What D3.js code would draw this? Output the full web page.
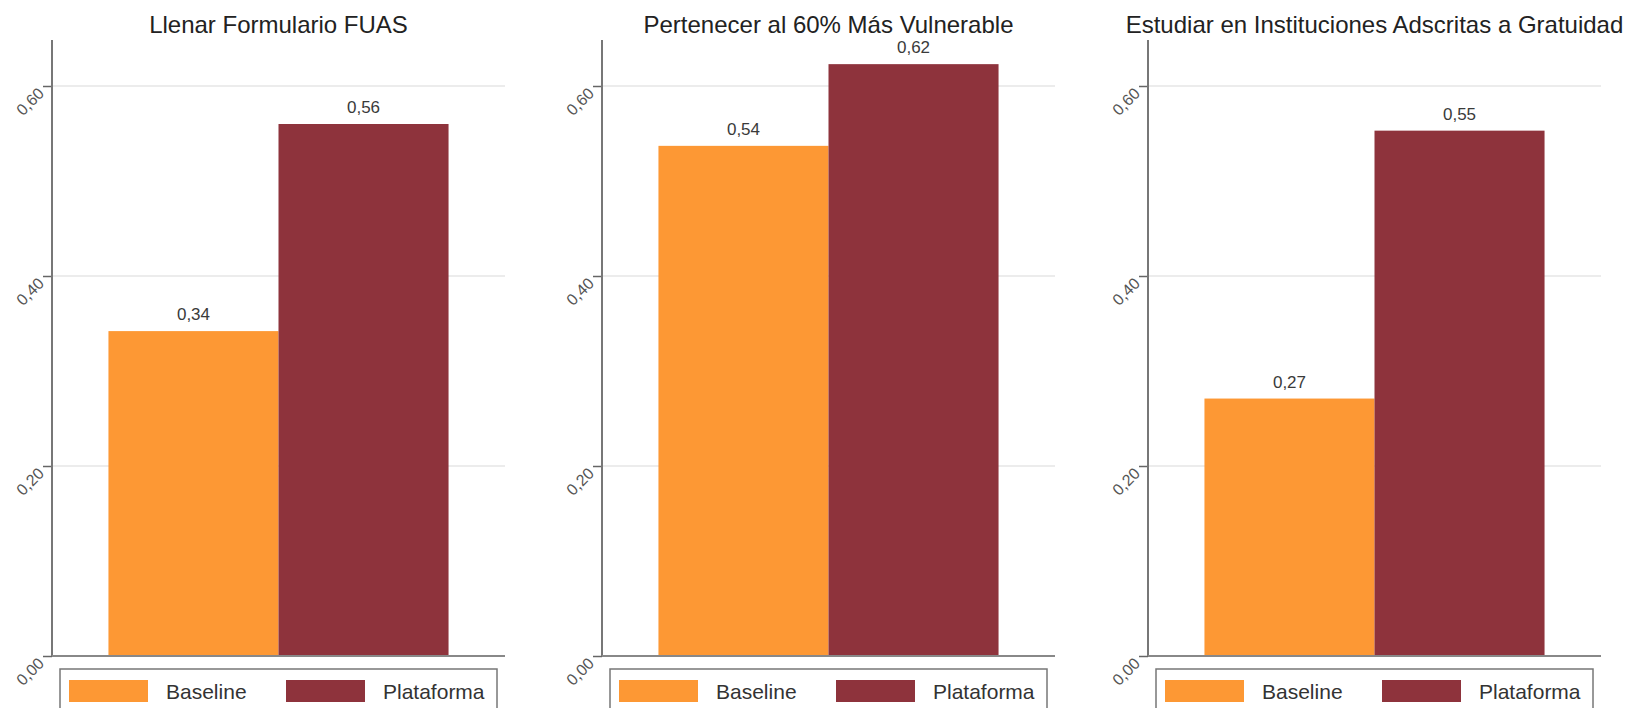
<!DOCTYPE html>
<html>
<head>
<meta charset="utf-8">
<script src="https://cdn.jsdelivr.net/npm/d3@7"></script>
<style>
  html, body { margin: 0; padding: 0; background: #fff; }
  svg { display: block; font-family: "Liberation Sans", Arial, sans-serif; }
</style>
</head>
<body>
<svg id="chart" width="1630" height="708"></svg>
<script>
// ---- data ----
const panelTitles = ["Llenar Formulario FUAS", "Pertenecer al 60% Más Vulnerable", "Estudiar en Instituciones Adscritas a Gratuidad"];
const seriesNames = ["Baseline", "Plataforma"];
const baselineValues = [0.342, 0.537, 0.271];
const plataformaValues = [0.560, 0.623, 0.553];
const yTickValues = [0, 0.2, 0.4, 0.6];
const seriesColors = ["#FD9834", "#8E333C"];

// ---- layout ----
const svg = d3.select("#chart");
const axisXs = [52, 602, 1148];
const plotW = 453;
const yTop = 40, yBottom = 656;

const locale = d3.formatLocale({ decimal: ",", thousands: ".", grouping: [3], currency: ["", ""] });
const fmt = locale.format(".2f");

const y = d3.scaleLinear().domain([0, 0.6]).range([yBottom, 86]);

panelTitles.forEach((title, i) => {
  const x0 = axisXs[i];
  const g = svg.append("g");
  const vals = [baselineValues[i], plataformaValues[i]];

  const x = d3.scaleBand().domain(seriesNames).range([x0, x0 + plotW])
    .paddingInner(0).paddingOuter(0.332);

  // gridlines
  g.selectAll("line.grid").data(yTickValues.filter(d => d > 0)).join("line")
    .attr("x1", x0).attr("x2", x0 + plotW)
    .attr("y1", d => y(d)).attr("y2", d => y(d))
    .attr("stroke", "#e6e6e6").attr("stroke-width", 1.5);

  // bars
  g.selectAll("rect.bar").data(seriesNames).join("rect")
    .attr("x", d => x(d)).attr("width", x.bandwidth())
    .attr("y", (d, j) => y(vals[j])).attr("height", (d, j) => yBottom - y(vals[j]))
    .attr("fill", (d, j) => seriesColors[j]);

  // value labels
  g.selectAll("text.val").data(seriesNames).join("text")
    .attr("x", d => x(d) + x.bandwidth() / 2)
    .attr("y", (d, j) => y(vals[j]) - 11)
    .attr("text-anchor", "middle")
    .attr("font-size", 17).attr("fill", "#3a3a3a")
    .text((d, j) => fmt(vals[j]));

  // y axis
  const yAxis = d3.axisLeft(y).tickValues(yTickValues).tickSize(9).tickPadding(4).tickFormat(fmt);
  const ax = g.append("g").attr("transform", `translate(${x0},0)`).call(yAxis);
  ax.select(".domain").remove();
  ax.selectAll(".tick line").attr("stroke", "#666").attr("stroke-width", 1.5);
  ax.selectAll(".tick text")
    .attr("font-size", 16).attr("fill", "#555")
    .attr("font-family", "Liberation Sans, Arial, sans-serif")
    .attr("text-anchor", "end")
    .attr("x", -10).attr("dy", "0.9em")
    .attr("transform", "rotate(-45)")
    .each(function () {
      const t = d3.select(this);
      const ty = d3.select(this.parentNode).attr("transform");
    });
  // rotate each label around its tick point
  ax.selectAll(".tick text").attr("transform", null).attr("x", null).attr("dy", null)
    .attr("transform", "translate(-11,4) rotate(-45)").attr("dy", "0.35em");

  g.append("line").attr("x1", x0).attr("x2", x0).attr("y1", yTop).attr("y2", yBottom)
    .attr("stroke", "#777").attr("stroke-width", 2);
  g.append("line").attr("x1", x0).attr("x2", x0 + plotW).attr("y1", yBottom).attr("y2", yBottom)
    .attr("stroke", "#888").attr("stroke-width", 2);

  // title
  g.append("text").attr("x", x0 + plotW / 2).attr("y", 33)
    .attr("text-anchor", "middle").attr("font-size", 24).attr("fill", "#222")
    .text(title);

  // legend
  const lg = g.append("g").attr("transform", `translate(${x0 + 8},669)`);
  lg.append("rect").attr("x", 0).attr("y", 0).attr("width", plotW - 16).attr("height", 50)
    .attr("fill", "#fff").attr("stroke", "#777").attr("stroke-width", 1.5);
  seriesNames.forEach((s, j) => {
    const kx = 9 + j * 217;
    lg.append("rect").attr("x", kx).attr("y", 11).attr("width", 79).attr("height", 22)
      .attr("fill", seriesColors[j]);
    lg.append("text").attr("x", kx + 97).attr("y", 30)
      .attr("font-size", 21).attr("fill", "#333").text(s);
  });
});
</script>
</body>
</html>
